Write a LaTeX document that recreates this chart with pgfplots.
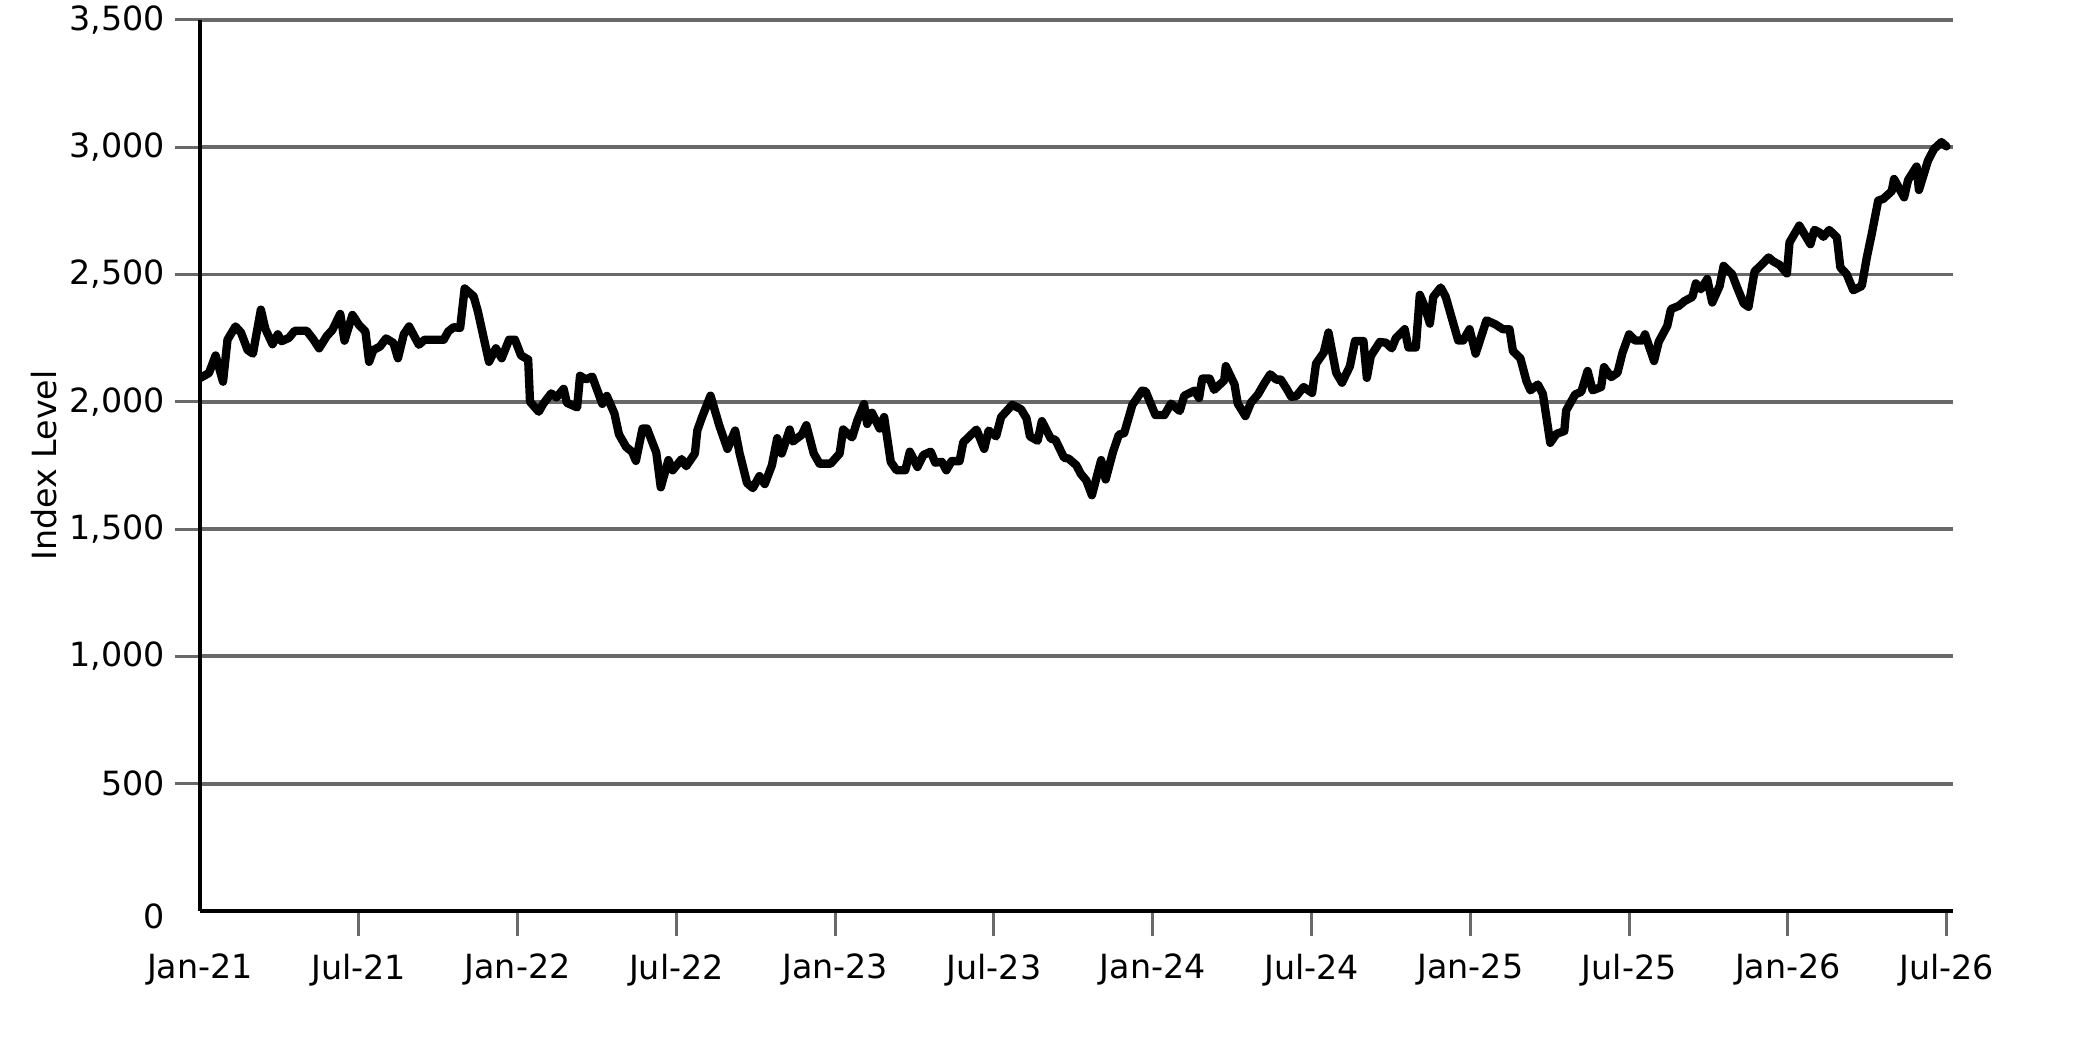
\documentclass[border=0pt]{standalone}
\usepackage{fontspec}
\setmainfont{DejaVu Sans}
\usepackage{pgfplots}
\pgfplotsset{compat=1.18}
\definecolor{gridgray}{RGB}{105,105,105}
\begin{document}
\begin{tikzpicture}
\path[use as bounding box] (-72pt,-47.16pt) rectangle (677.88pt,327.96pt);
\begin{axis}[
  at={(0,0)}, anchor=south west,
  scale only axis, width=631.2pt, height=320.8pt,
  xmin=0, xmax=66.25, ymin=0, ymax=3500,
  axis x line*=bottom, axis y line*=left,
  x axis line style={line width=1.2pt, black},
  y axis line style={line width=1.1pt, black},
  xtick={6,12,...,66},
  xticklabels={Jul-21,Jan-22,Jul-22,Jan-23,Jul-23,Jan-24,Jul-24,Jan-25,Jul-25,Jan-26,Jul-26},
  extra x ticks={0}, extra x tick labels={Jan-21},
  extra x tick style={grid=none, tick style={draw=none}},
  ytick={500,1000,...,3500},
  extra y ticks={0}, extra y tick labels={0},
  extra y tick style={grid=none, tick style={draw=none}, yticklabel style={yshift=-2pt}},
  ymajorgrids,
  major grid style={gridgray, line width=1.4pt},
  tick align=outside, major tick length=9pt,
  tick style={gridgray, line width=1.1pt},
  ticklabel style={font=\fontsize{12}{14}\selectfont},
  xticklabel style={yshift=-3pt},
  ylabel={Index Level},
  ylabel style={at={(axis description cs:-0.089,0.5)}, anchor=center, font=\fontsize{12}{14}\selectfont},
  /pgf/number format/1000 sep={,},
  /pgf/number format/assume math mode=true,
]
\addplot[black, line width=3pt, line join=round, line cap=round] coordinates {
(0,2093)(0.34,2113)(0.59,2182)(0.87,2079)(1.04,2244)(1.34,2296)(1.55,2272)(1.8,2203)(2.0,2189)(2.3,2362)(2.47,2286)(2.74,2226)(2.94,2265)(3.08,2238)(3.36,2251)(3.58,2279)(4.03,2279)(4.29,2244)(4.5,2210)(4.79,2258)(5.0,2282)(5.3,2345)(5.46,2240)(5.76,2341)(6.02,2300)(6.25,2276)(6.39,2157)(6.55,2203)(6.8,2217)(7.03,2249)(7.31,2231)(7.48,2171)(7.7,2265)(7.9,2296)(8.27,2224)(8.49,2244)(9.21,2244)(9.38,2276)(9.58,2293)(9.83,2290)(10.0,2445)(10.34,2414)(10.5,2355)(10.72,2251)(10.92,2157)(11.18,2210)(11.4,2171)(11.68,2244)(11.9,2244)(12.13,2182)(12.4,2166)(12.47,2000)(12.8,1961)(12.97,1992)(13.27,2033)(13.47,2017)(13.74,2051)(13.86,1996)(14.25,1978)(14.36,2102)(14.58,2088)(14.82,2099)(15.2,1992)(15.37,2023)(15.66,1954)(15.83,1872)(16.1,1823)(16.33,1803)(16.47,1768)(16.72,1895)(16.89,1895)
(17.24,1801)(17.41,1664)(17.7,1771)(17.86,1731)(18.2,1775)(18.37,1747)(18.7,1797)(18.79,1887)(18.96,1937)(19.29,2024)(19.63,1904)(19.93,1815)(20.22,1887)(20.39,1797)(20.67,1681)(20.89,1661)(21.14,1708)(21.34,1677)(21.61,1751)(21.81,1857)(21.98,1797)(22.28,1891)(22.4,1844)(22.74,1871)(22.91,1908)(23.19,1797)(23.41,1757)(23.83,1757)(24.17,1797)(24.3,1891)(24.64,1860)(24.84,1927)(25.09,1991)(25.21,1913)(25.39,1957)(25.68,1895)(25.85,1940)(26.1,1764)(26.32,1731)(26.65,1731)(26.82,1804)(27.11,1744)(27.33,1791)(27.61,1804)(27.78,1761)(28.03,1764)(28.2,1731)(28.4,1767)(28.7,1767)(28.84,1841)(29.07,1864)(29.34,1891)(29.63,1815)(29.8,1887)(30.08,1864)(30.27,1940)(30.69,1988)(31.02,1971)(31.23,1935)(31.36,1864)(31.65,1847)(31.81,1924)(32.15,1855)(32.32,1851)(32.65,1780)(32.82,1777)(33.11,1751)(33.28,1717)(33.49,1691)(33.7,1633)(34.05,1771)(34.22,1695)(34.5,1804)(34.72,1871)(34.92,1877)(35.23,1988)(35.6,2044)(35.73,2041)(36.1,1948)(36.44,1948)(36.69,1993)(37.02,1964)(37.19,2024)(37.58,2044)(37.75,2015)(37.87,2091)(38.15,2091)(38.32,2047)(38.7,2084)(38.76,2140)(39.09,2068)(39.21,1993)(39.5,1944)(39.71,1997)(39.97,2028)(40.22,2073)(40.44,2108)(40.67,2087)(40.84,2087)(41.06,2051)(41.23,2020)
(41.42,2022)(41.7,2058)(42.02,2035)(42.17,2150)(42.46,2193)(42.64,2272)(42.93,2114)(43.15,2075)(43.45,2140)(43.64,2239)(43.96,2239)(44.09,2094)(44.24,2180)(44.58,2235)(44.81,2232)(45.03,2210)(45.18,2249)(45.52,2285)(45.66,2213)(45.94,2213)(46.09,2420)(46.28,2373)(46.47,2307)(46.6,2412)(46.88,2449)(47.07,2412)(47.54,2241)(47.73,2241)(47.97,2285)(48.2,2189)(48.61,2320)(48.95,2304)(49.23,2285)(49.48,2285)(49.61,2199)(49.89,2171)(50.12,2081)(50.27,2045)(50.55,2068)(50.74,2031)(51.02,1839)(51.25,1874)(51.55,1885)(51.62,1966)(51.96,2029)(52.19,2039)(52.43,2121)(52.62,2045)(52.94,2058)(53.05,2136)(53.32,2097)(53.56,2114)(53.75,2193)(54.0,2265)(54.22,2241)(54.5,2241)(54.6,2265)(54.94,2160)(55.12,2236)(55.44,2298)(55.58,2364)(55.88,2377)(56.1,2396)(56.39,2412)(56.52,2465)(56.71,2442)(56.95,2482)(57.14,2390)(57.42,2455)(57.57,2534)(57.89,2501)(58.08,2449)(58.33,2386)(58.51,2373)(58.74,2512)(58.96,2534)(59.27,2567)(59.45,2551)(59.68,2538)(59.96,2504)(60.06,2626)(60.43,2692)(60.85,2619)(61.0,2675)(61.19,2665)(61.34,2648)(61.56,2675)(61.85,2646)(61.98,2528)(62.22,2501)(62.47,2438)(62.79,2455)(62.98,2567)(63.16,2656)(63.41,2790)(63.6,2797)(63.92,2827)(64.01,2875)(64.39,2803)(64.54,2871)(64.86,2924)(64.95,2832)(65.29,2947)(65.52,2993)(65.8,3020)(65.99,3003)
};
\end{axis}
\end{tikzpicture}
\end{document}
